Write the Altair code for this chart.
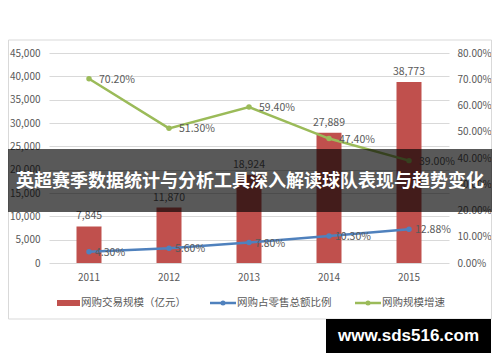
import altair as alt
import pandas as pd

years = ["2011", "2012", "2013", "2014", "2015"]
scale_values = [7845, 11870, 18924, 27889, 38773]
share_values = [0.043, 0.056, 0.078, 0.103, 0.1288]
growth_values = [0.702, 0.513, 0.594, 0.474, 0.390]
series_names = ["网购交易规模（亿元）", "网购占零售总额比例", "网购规模增速"]
left_ticks = [0, 5000, 10000, 15000, 20000, 25000, 30000, 35000, 40000, 45000]
right_ticks = [0.0, 0.1, 0.2, 0.3, 0.4, 0.5, 0.6, 0.7, 0.8]
title_text = "英超赛季数据统计与分析工具深入解读球队表现与趋势变化"
watermark_text = "www.sds516.com"

FONT = "Noto Sans CJK SC"
GRAY = "#595959"
RED = "#C0504D"
BLUE = "#4F81BD"
GREEN = "#9BBB59"

df = pd.DataFrame({"year": years, "scale": scale_values,
                   "share": share_values, "growth": growth_values})

x = alt.X("year:O", scale=alt.Scale(type="band", paddingInner=0, paddingOuter=0),
          axis=alt.Axis(title=None, labelAngle=0, ticks=False, domain=False,
                        labelPadding=9, labelFontSize=10, labelColor=GRAY, labelFont=FONT))

left_axis = alt.Axis(title=None, values=left_ticks, format=",.0f", grid=True, gridColor="#d9d9d9",
                     domain=False, ticks=False, labelPadding=9, labelFontSize=10,
                     labelColor=GRAY, labelFont=FONT)
right_axis = alt.Axis(title=None, orient="right", values=right_ticks, format=".2%", grid=False,
                      domain=False, ticks=False, labelPadding=8, labelFontSize=10,
                      labelColor=GRAY, labelFont=FONT)
yl = alt.Scale(domain=[0, 45000], nice=False)
yr = alt.Scale(domain=[0, 0.8], nice=False)

base = alt.Chart(df)
bars = base.mark_bar(size=25, color=RED).encode(
    x=x, y=alt.Y("scale:Q", scale=yl, axis=left_axis))
bar_text = base.mark_text(baseline="bottom", dy=-5, fontSize=10.5, color=GRAY, font=FONT).encode(
    x=x, y=alt.Y("scale:Q", scale=yl, axis=left_axis), text=alt.Text("scale:Q", format=",.0f"))
left = alt.layer(bars, bar_text)

def series(field, color, dx):
    y = alt.Y(f"{field}:Q", scale=yr, axis=right_axis)
    line = base.mark_line(color=color, strokeWidth=2.5).encode(x=x, y=y)
    pts = base.mark_point(filled=True, size=30, color=color, opacity=1).encode(x=x, y=y)
    txt = base.mark_text(align="left", baseline="middle", dx=dx, dy=1, fontSize=10.5,
                         color=GRAY, font=FONT).encode(
        x=x, y=y, text=alt.Text(f"{field}:Q", format=".2%"))
    return [line, pts, txt]

right = alt.layer(*series("share", BLUE, 6), *series("growth", GREEN, 10))

one = pd.DataFrame({"k": [0]})
deco = alt.Chart(one)
border = deco.mark_rect(fill=None, stroke="#d9d9d9", strokeWidth=1).encode(
    x=alt.value(-40.5), x2=alt.value(442.5), y=alt.value(-13), y2=alt.value(266))

# legend
leg_red = deco.mark_rect(color=RED).encode(
    x=alt.value(8), x2=alt.value(31), y=alt.value(247), y2=alt.value(253))
leg_blue_line = deco.mark_rule(color=BLUE, strokeWidth=2.5).encode(
    x=alt.value(161), x2=alt.value(187), y=alt.value(250))
leg_blue_pt = deco.mark_point(filled=True, size=25, color=BLUE, opacity=1).encode(
    x=alt.value(174), y=alt.value(250))
leg_green_line = deco.mark_rule(color=GREEN, strokeWidth=2.5).encode(
    x=alt.value(306), x2=alt.value(332), y=alt.value(250))
leg_green_pt = deco.mark_point(filled=True, size=25, color=GREEN, opacity=1).encode(
    x=alt.value(319), y=alt.value(250))
leg_texts = []
for name, px in zip(series_names, [32, 188, 333]):
    leg_texts.append(deco.mark_text(align="left", baseline="middle", fontSize=10.5,
                                    color=GRAY, font=FONT).encode(
        x=alt.value(px), y=alt.value(250), text=alt.value(name)))

banner = deco.mark_rect(color="black", opacity=0.65).encode(
    x=alt.value(-41), x2=alt.value(443), y=alt.value(96), y2=alt.value(159))
banner_text = deco.mark_text(align="center", baseline="middle", fontSize=18, fontWeight="bold",
                             color="white", font=FONT).encode(
    x=alt.value(201), y=alt.value(129), text=alt.value(title_text))

wm_rect = deco.mark_rect(color="black").encode(
    x=alt.value(277), x2=alt.value(442), y=alt.value(266), y2=alt.value(300))
wm_text = deco.mark_text(align="center", baseline="middle", fontSize=17, fontWeight="bold",
                         color="white", font="Liberation Sans").encode(
    x=alt.value(359.5), y=alt.value(283), text=alt.value(watermark_text))

chart = alt.layer(
    left, right, border, leg_red, leg_blue_line, leg_blue_pt, leg_green_line, leg_green_pt,
    *leg_texts, banner, banner_text, wm_rect, wm_text
).resolve_scale(y="independent").properties(
    width=400, height=210,
    autosize=alt.AutoSizeParams(type="none"),
    padding={"left": 41, "top": 45, "right": 43, "bottom": 91},
    background="white",
).configure_view(stroke=None)

chart.save("out.html", embed_options={"renderer": "svg", "actions": False})
